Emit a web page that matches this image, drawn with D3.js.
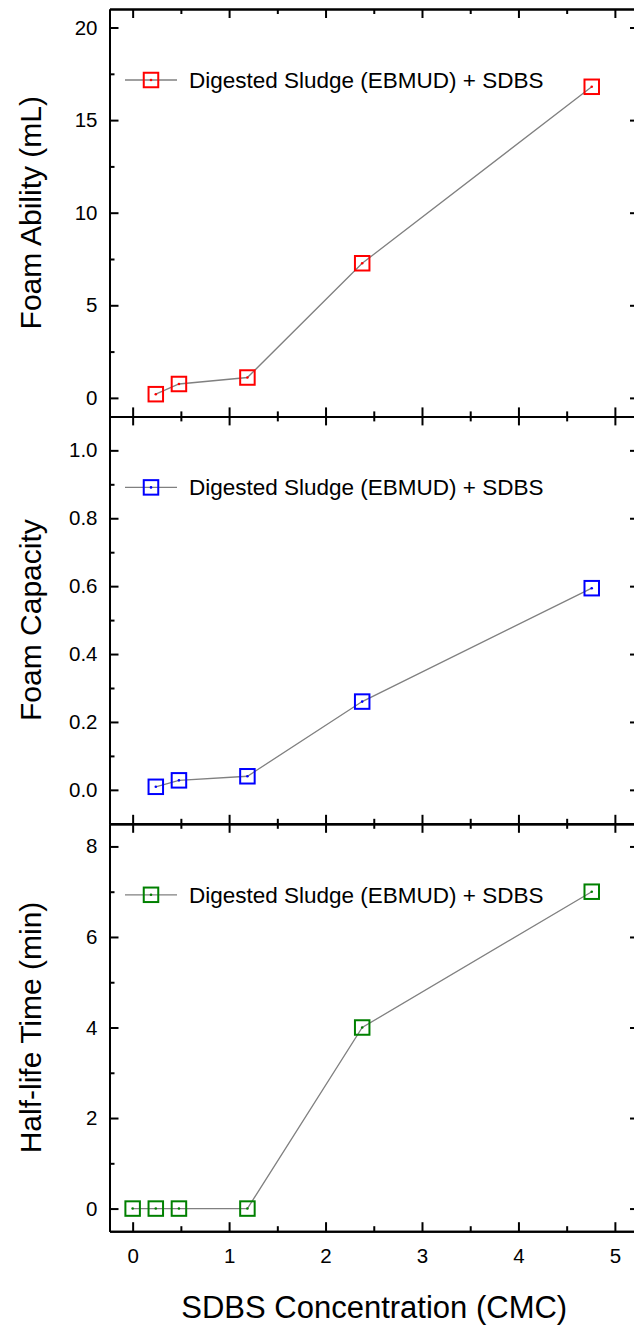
<!DOCTYPE html>
<html>
<head>
<meta charset="utf-8">
<script src="https://cdn.jsdelivr.net/npm/d3@7"></script>
<style>
  body { margin: 0; background: #fff; }
  svg text { font-family: "Liberation Sans", Arial, sans-serif; fill: #000; }
</style>
</head>
<body>
<svg id="chart"></svg>
<script>
// data
var concAll = [0, 0.24, 0.48, 1.19, 2.38, 4.76];   // SDBS concentration (CMC)
var concFoam = [0.24, 0.48, 1.19, 2.38, 4.76];
var foamAbility = [0.2, 0.75, 1.1, 7.27, 16.8];      // mL
var foamCapacity = [0.009, 0.028, 0.04, 0.26, 0.594];
var halfLife = [0, 0, 0, 0, 4, 7];                   // min

var xTicks = [0, 1, 2, 3, 4, 5];
var abilityTicks = [0, 5, 10, 15, 20];
var capacityTicks = [0, 0.2, 0.4, 0.6, 0.8, 1.0];
var halfLifeTicks = [0, 2, 4, 6, 8];
var legendLabel = "Digested Sludge (EBMUD) + SDBS";

var width = 634, height = 1326;
var plotLeft = 109.5, plotRight = 639;
var panelTop = 9, panelH = 407.4;

var svg = d3.select('#chart').attr('width', width).attr('height', height);

var x = d3.scaleLinear().domain([-0.24, 5.25]).range([plotLeft, plotRight]);

var panels = [
  {xs: concFoam, ys: foamAbility, dom: [-1, 21], ticks: abilityTicks, fmt: d3.format('d'),
   color: '#ff0000', title: 'Foam Ability (mL)'},
  {xs: concFoam, ys: foamCapacity, dom: [-0.1, 1.1], ticks: capacityTicks, fmt: d3.format('.1f'),
   color: '#0000ff', title: 'Foam Capacity'},
  {xs: concAll, ys: halfLife, dom: [-0.5, 8.5], ticks: halfLifeTicks, fmt: d3.format('d'),
   color: '#008000', title: 'Half-life Time (min)'}
];

// midpoints between major ticks
function minors(t) {
  var m = [];
  for (var i = 0; i < t.length - 1; i++) m.push((t[i] + t[i + 1]) / 2);
  return m;
}
var xMinor = minors(xTicks);

function styleAxis(g) {
  g.selectAll('path').attr('stroke', '#000').attr('stroke-width', 2);
  g.selectAll('line').attr('stroke', '#000').attr('stroke-width', 2);
  g.selectAll('text').style('font-size', '20.5px');
}

panels.forEach(function(p, i) {
  var top = panelTop + i * panelH, bottom = top + panelH;
  var y = d3.scaleLinear().domain(p.dom).range([bottom, top]);
  var g = svg.append('g');
  var isLast = i === panels.length - 1;

  // left axis
  g.append('g').attr('transform', 'translate(' + plotLeft + ',0)')
    .call(d3.axisLeft(y).tickValues(p.ticks).tickFormat(p.fmt).tickSize(-9).tickSizeOuter(0).tickPadding(12))
    .call(styleAxis);
  g.append('g').attr('transform', 'translate(' + plotLeft + ',0)')
    .call(d3.axisLeft(y).tickValues(minors(p.ticks)).tickFormat('').tickSize(-5).tickSizeOuter(0))
    .call(styleAxis);
  // right axis
  g.append('g').attr('transform', 'translate(' + plotRight + ',0)')
    .call(d3.axisRight(y).tickValues(p.ticks).tickFormat('').tickSize(-9).tickSizeOuter(0))
    .call(styleAxis);
  g.append('g').attr('transform', 'translate(' + plotRight + ',0)')
    .call(d3.axisRight(y).tickValues(minors(p.ticks)).tickFormat('').tickSize(-5).tickSizeOuter(0))
    .call(styleAxis);
  // top axis
  g.append('g').attr('transform', 'translate(0,' + top + ')')
    .call(d3.axisTop(x).tickValues(xTicks).tickFormat('').tickSize(-9).tickSizeOuter(0))
    .call(styleAxis);
  g.append('g').attr('transform', 'translate(0,' + top + ')')
    .call(d3.axisTop(x).tickValues(xMinor).tickFormat('').tickSize(-5).tickSizeOuter(0))
    .call(styleAxis);
  // bottom axis
  g.append('g').attr('transform', 'translate(0,' + bottom + ')')
    .call(d3.axisBottom(x).tickValues(xTicks).tickFormat(isLast ? d3.format('d') : '')
      .tickSize(-9).tickSizeOuter(0).tickPadding(17))
    .call(styleAxis);
  g.append('g').attr('transform', 'translate(0,' + bottom + ')')
    .call(d3.axisBottom(x).tickValues(xMinor).tickFormat('').tickSize(-5).tickSizeOuter(0))
    .call(styleAxis);

  // data line
  var pts = p.xs.map(function(d, j) { return [d, p.ys[j]]; });
  g.append('path')
    .datum(pts)
    .attr('fill', 'none')
    .attr('stroke', '#808080')
    .attr('stroke-width', 1.3)
    .attr('d', d3.line().x(function(d) { return x(d[0]); }).y(function(d) { return y(d[1]); }));

  var s = 14.5;
  g.selectAll('rect.pt').data(pts).enter().append('rect')
    .attr('class', 'pt')
    .attr('x', function(d) { return x(d[0]) - s / 2; })
    .attr('y', function(d) { return y(d[1]) - s / 2; })
    .attr('width', s).attr('height', s)
    .attr('fill', 'none').attr('stroke', p.color).attr('stroke-width', 2);
  g.selectAll('circle.pt').data(pts).enter().append('circle')
    .attr('class', 'pt')
    .attr('cx', function(d) { return x(d[0]); })
    .attr('cy', function(d) { return y(d[1]); })
    .attr('r', 1.3).attr('fill', p.color);

  // legend
  var ly = top + 71;
  g.append('line').attr('x1', 125).attr('x2', 177).attr('y1', ly).attr('y2', ly)
    .attr('stroke', '#808080').attr('stroke-width', 1.3);
  g.append('rect').attr('x', 151 - s / 2).attr('y', ly - s / 2).attr('width', s).attr('height', s)
    .attr('fill', 'none').attr('stroke', p.color).attr('stroke-width', 2);
  g.append('circle').attr('cx', 151).attr('cy', ly).attr('r', 1.3).attr('fill', p.color);
  g.append('text').attr('x', 189).attr('y', ly).attr('dy', '0.35em')
    .style('font-size', '22.5px').text(legendLabel);

  // y title
  g.append('text')
    .attr('transform', 'translate(41,' + (top + bottom) / 2 + ') rotate(-90)')
    .attr('text-anchor', 'middle')
    .style('font-size', '30px')
    .text(p.title);
});

svg.append('text')
  .attr('x', (plotLeft + plotRight) / 2)
  .attr('y', 1318)
  .attr('text-anchor', 'middle')
  .style('font-size', '31px')
  .text('SDBS Concentration (CMC)');
</script>
</body>
</html>
